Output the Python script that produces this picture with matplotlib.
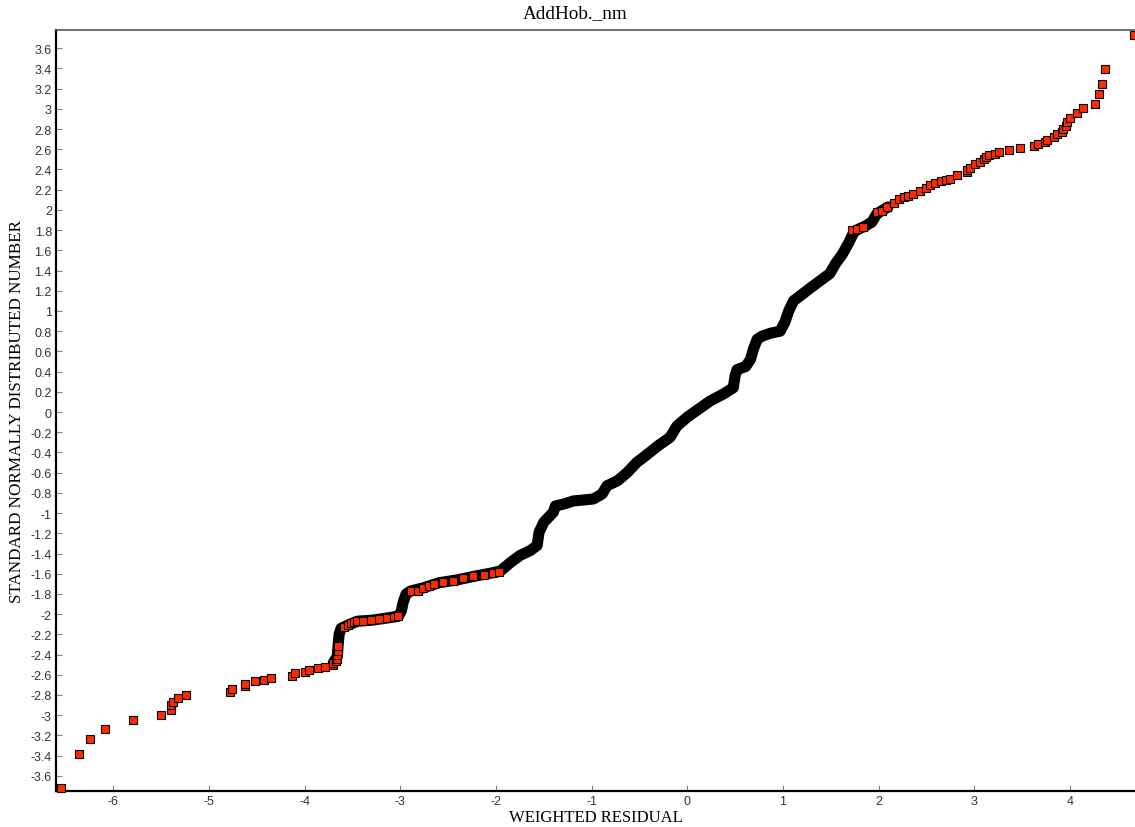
import numpy as np
import matplotlib
matplotlib.use("Agg")
import matplotlib.pyplot as plt
from matplotlib.ticker import FuncFormatter, MultipleLocator

plt.rcParams['axes.unicode_minus'] = False

# dense part of the probability curve (overlapping markers -> black band)
band_x = [-3.70, -3.66, -3.65, -3.64, -3.62, -3.55, -3.45, -3.30, -3.15, -3.02,
          -2.99, -2.97, -2.94, -2.89, -2.76, -2.60, -2.40, -2.20, -2.03, -1.95,
          -1.85, -1.75, -1.64, -1.57, -1.55, -1.50, -1.40, -1.38, -1.29, -1.19,
          -1.08, -0.98, -0.89, -0.84, -0.73, -0.63, -0.53, -0.42, -0.30, -0.18,
          -0.11, 0.00, 0.12, 0.24, 0.38, 0.48, 0.50, 0.52, 0.61, 0.66,
          0.69, 0.73, 0.78, 0.87, 0.97, 1.02, 1.06, 1.11, 1.18, 1.29,
          1.39, 1.49, 1.55, 1.62, 1.69, 1.74, 1.79, 1.86, 1.93, 1.98,
          2.03, 2.10]
band_y = [-2.48, -2.42, -2.30, -2.20, -2.14, -2.11, -2.07, -2.06, -2.04, -2.02,
          -1.97, -1.88, -1.80, -1.77, -1.74, -1.69, -1.66, -1.62, -1.59, -1.57,
          -1.49, -1.42, -1.37, -1.32, -1.19, -1.09, -0.99, -0.93, -0.91, -0.88,
          -0.87, -0.86, -0.81, -0.73, -0.68, -0.60, -0.50, -0.42, -0.33, -0.25,
          -0.14, -0.05, 0.03, 0.11, 0.18, 0.24, 0.36, 0.42, 0.45, 0.52,
          0.62, 0.72, 0.75, 0.78, 0.80, 0.89, 1.00, 1.10, 1.15, 1.23,
          1.30, 1.37, 1.47, 1.56, 1.68, 1.78, 1.81, 1.84, 1.88, 1.96,
          1.99, 2.03]

# separately visible squares (tails and flat stretches)
pt_x = [-6.55, -6.36, -6.24, -6.09, -5.79, -5.50, -5.40, -5.40, -5.38, -5.32,
        -5.24, -4.78, -4.76, -4.62, -4.62, -4.52, -4.43, -4.35, -4.13, -4.10,
        -4.00, -3.96, -3.86, -3.79, -3.70, -3.70, -3.67, -3.66, -3.66, -3.65,
        -3.65,
        -3.59, -3.55, -3.52, -3.48, -3.45, -3.39, -3.31, -3.22, -3.14, -3.07,
        -3.02,
        -2.89, -2.82, -2.76, -2.70, -2.65, -2.55, -2.45, -2.34, -2.24, -2.13,
        -2.03, -1.97,
        1.72, 1.77, 1.84, 1.98, 2.03, 2.09, 2.16, 2.21, 2.26, 2.31,
        2.36, 2.43, 2.49, 2.54, 2.59, 2.65, 2.70, 2.75, 2.82, 2.92,
        2.92, 2.96, 3.01, 3.06, 3.10, 3.12, 3.15, 3.22, 3.26, 3.36,
        3.48, 3.62, 3.67, 3.74, 3.76, 3.83, 3.86, 3.92, 3.93, 3.96,
        3.97, 4.00, 4.07, 4.14, 4.26, 4.30, 4.33, 4.37, 4.67]
pt_y = [-3.72, -3.38, -3.24, -3.14, -3.05, -3.00, -2.95, -2.90, -2.87, -2.83,
        -2.80, -2.77, -2.74, -2.71, -2.69, -2.66, -2.65, -2.63, -2.61, -2.58,
        -2.57, -2.55, -2.53, -2.52, -2.50, -2.48, -2.46, -2.44, -2.40, -2.36,
        -2.32,
        -2.13, -2.11, -2.09, -2.08, -2.07, -2.07, -2.06, -2.05, -2.04, -2.03,
        -2.02,
        -1.77, -1.77, -1.74, -1.72, -1.70, -1.68, -1.67, -1.64, -1.62, -1.61,
        -1.59, -1.58,
        1.80, 1.81, 1.83, 1.98, 1.99, 2.03, 2.07, 2.11, 2.13, 2.14,
        2.16, 2.19, 2.22, 2.25, 2.27, 2.29, 2.30, 2.31, 2.35, 2.37,
        2.39, 2.41, 2.45, 2.47, 2.50, 2.52, 2.54, 2.55, 2.57, 2.59,
        2.61, 2.63, 2.65, 2.67, 2.69, 2.72, 2.75, 2.77, 2.80, 2.83,
        2.87, 2.91, 2.96, 3.01, 3.05, 3.15, 3.25, 3.39, 3.73]

fig = plt.figure(figsize=(11.35, 8.28), dpi=100)
ax = fig.add_axes([56 / 1135, 36 / 828, 1079 / 1135, 761 / 828])

ax.plot(band_x, band_y, color='black', lw=8, solid_joinstyle='round',
        solid_capstyle='round', zorder=2)
ax.plot(pt_x, pt_y, ls='none', marker='s', ms=6, mfc='#ff2a00', mec='black',
        mew=0.8, zorder=3, clip_on=False)

ax.set_xlim(-6.60, 4.68)
ax.set_ylim(-3.75, 3.78)
ax.xaxis.set_major_locator(MultipleLocator(1))
ax.yaxis.set_major_locator(MultipleLocator(0.2))
ax.yaxis.set_major_formatter(FuncFormatter(lambda v, p: '%g' % (round(v, 1) + 0.0)))
ax.xaxis.set_major_formatter(FuncFormatter(lambda v, p: '%g' % (round(v) + 0.0)))

ax.tick_params(direction='in', length=4, width=0.8, color='#888888',
               labelsize=9, labelcolor='#333333', pad=3)
for lab in ax.get_xticklabels() + ax.get_yticklabels():
    lab.set_family('Liberation Sans')

ax.spines['left'].set_linewidth(1.6)
ax.spines['bottom'].set_linewidth(1.6)
ax.spines['top'].set_linewidth(1.2)
ax.spines['top'].set_color('#555555')
ax.spines['right'].set_visible(False)

ax.set_xlabel('WEIGHTED RESIDUAL', family='Liberation Serif', fontsize=12,
              labelpad=1)
ax.set_ylabel('STANDARD NORMALLY DISTRIBUTED NUMBER', family='Liberation Serif',
              fontsize=12.3, labelpad=4)
fig.text(575 / 1135, 1 - 14 / 828, 'AddHob._nm', family='Liberation Serif',
         fontsize=13.8, ha='center', va='center')

fig.savefig('out.png', dpi=100)
